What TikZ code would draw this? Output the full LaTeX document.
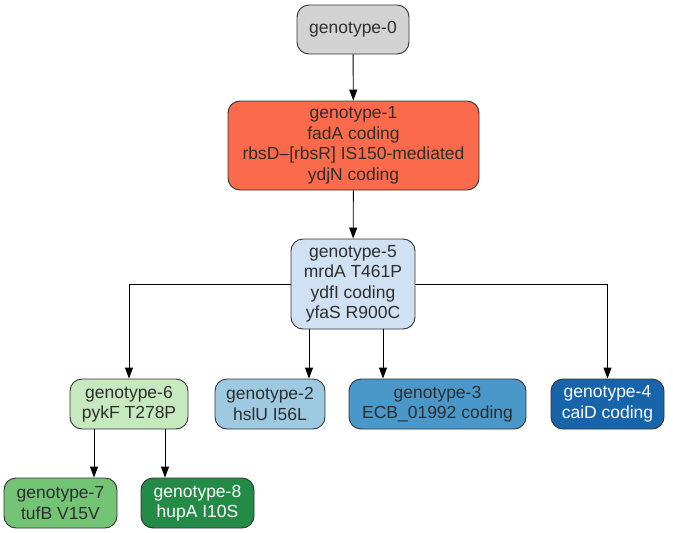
\documentclass[tikz,border=0pt]{standalone}
\usepackage{fontspec}
\setmainfont{Liberation Sans}
\usetikzlibrary{arrows.meta}
\definecolor{txt}{HTML}{2E2E2E}
\definecolor{edgec}{HTML}{333333}
\definecolor{c0}{HTML}{D3D3D3}
\definecolor{c1}{HTML}{FB6A4A}
\definecolor{c5}{HTML}{CFE1F2}
\definecolor{c6}{HTML}{C7E9C0}
\definecolor{c2}{HTML}{9ECAE1}
\definecolor{c3}{HTML}{4A98C9}
\definecolor{c4}{HTML}{1764AB}
\definecolor{c7}{HTML}{74C476}
\definecolor{c8}{HTML}{238B45}
\tikzset{
  geno/.style={draw=edgec, line width=0.9pt, rounded corners=12pt, inner sep=0pt,
    align=center, text=txt, font=\fontsize{17.5}{20.5}\selectfont},
  arr/.style={-{Triangle[length=11pt,width=8pt]}, line width=0.9pt, black},
}
\begin{document}
\begin{tikzpicture}[x=1pt,y=-1pt]
\useasboundingbox (0,0) rectangle (673,533);
\node[geno, fill=c0, minimum width=112pt, minimum height=49pt] (g0) at (353,29.5) {genotype-0};
\node[geno, fill=c1, minimum width=251pt, minimum height=89pt] (g1) at (353.5,145.5) {genotype-1\\fadA coding\\rbsD–[rbsR] IS150-mediated\\ydjN coding};
\node[geno, fill=c5, minimum width=124pt, minimum height=90pt] (g5) at (353,284) {genotype-5\\mrdA T461P\\ydfI coding\\yfaS R900C};
\node[geno, fill=c6, minimum width=118pt, minimum height=50pt] (g6) at (129,404) {genotype-6\\pykF T278P};
\node[geno, fill=c2, minimum width=110pt, minimum height=50pt] (g2) at (270,404) {genotype-2\\hslU I56L};
\node[geno, fill=c3, minimum width=177pt, minimum height=50pt] (g3) at (437.5,404) {genotype-3\\ECB\_01992 coding};
\node[geno, fill=c4, minimum width=113pt, minimum height=50pt, text=white] (g4) at (607.5,404) {genotype-4\\caiD coding};
\node[geno, fill=c7, minimum width=113pt, minimum height=50pt] (g7) at (60.5,503) {genotype-7\\tufB V15V};
\node[geno, fill=c8, minimum width=113pt, minimum height=50pt, text=white] (g8) at (197.5,503) {genotype-8\\hupA I10S};
\draw[arr] (g0) -- (g1);
\draw[arr] (g1) -- (g5);
\draw[arr] (g5.west) -| (g6.north);
\draw[arr] (g5.east) -| (g4.north);
\path (g2.north) ++(39,0) coordinate (a2);
\path (g3.north) ++(-54.5,0) coordinate (a3);
\path (g7.north) ++(33.5,0) coordinate (a7);
\path (g8.north) ++(-32.5,0) coordinate (a8);
\draw[arr] (a2 |- g5.south) -- (a2);
\draw[arr] (a3 |- g5.south) -- (a3);
\draw[arr] (a7 |- g6.south) -- (a7);
\draw[arr] (a8 |- g6.south) -- (a8);
\end{tikzpicture}
\end{document}
